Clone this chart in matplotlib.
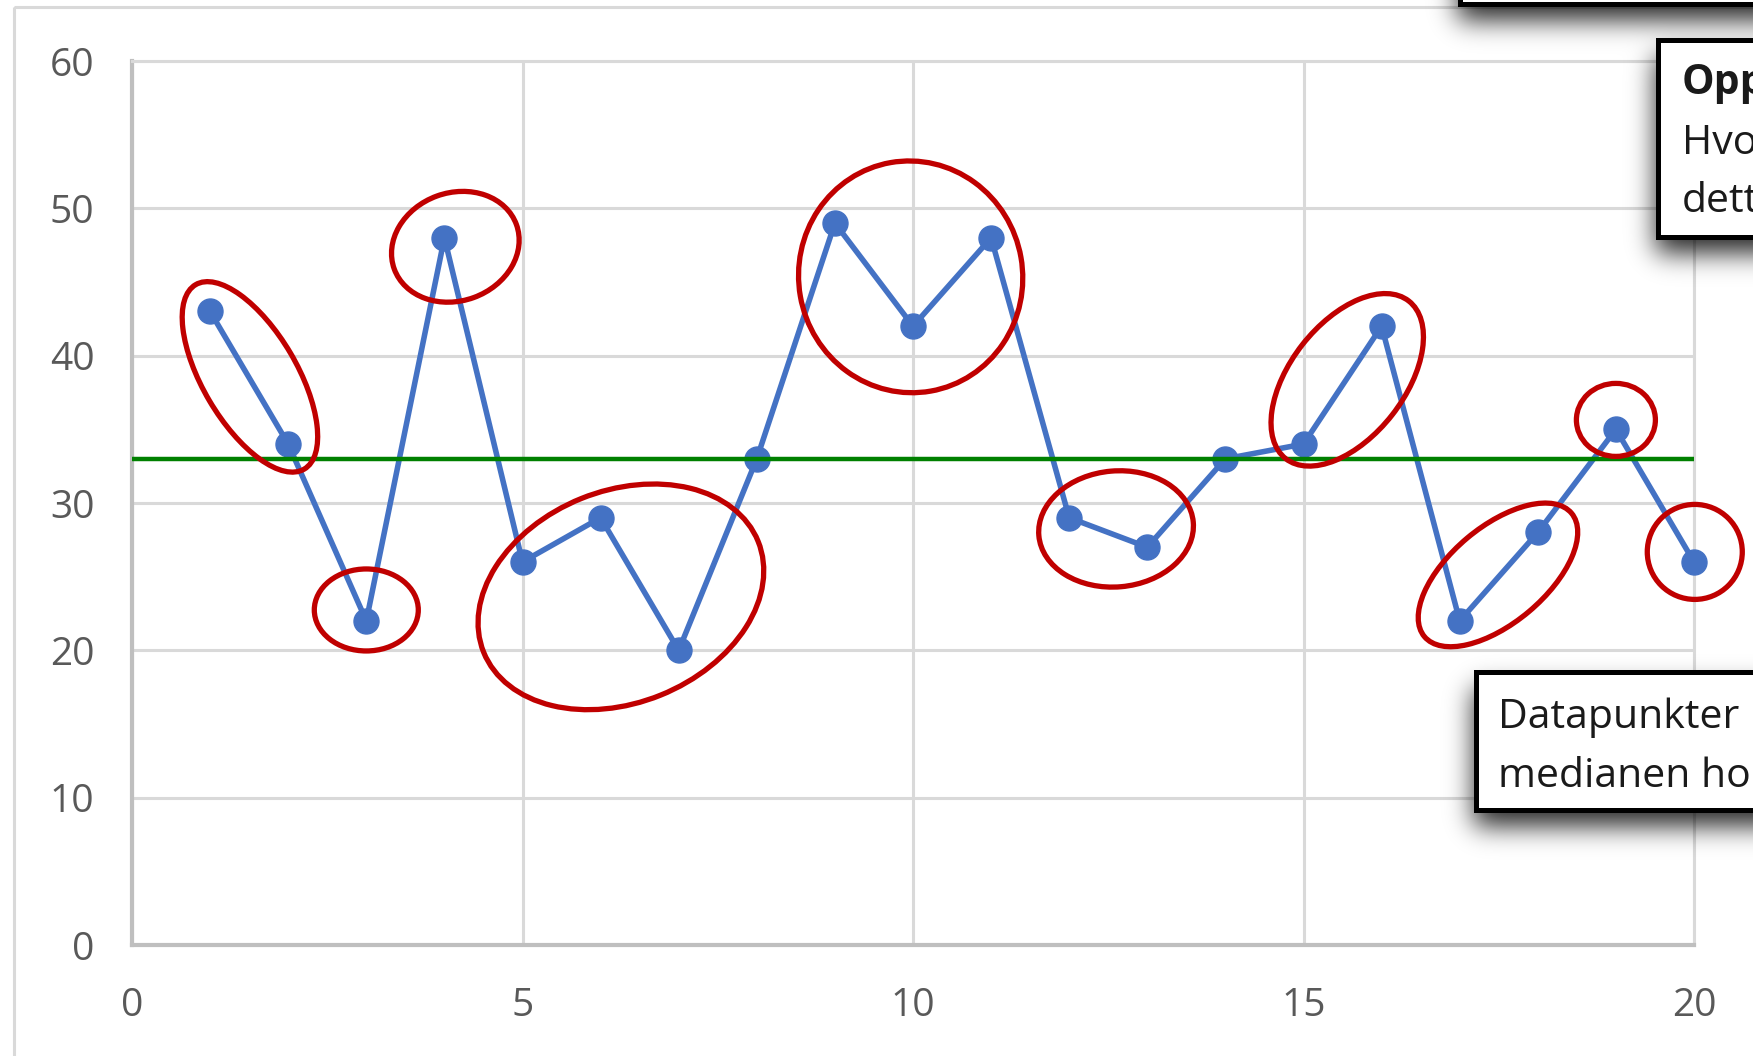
import math
import numpy as np
import matplotlib
matplotlib.use("Agg")
import matplotlib.pyplot as plt
from matplotlib.patches import Ellipse, Rectangle
from matplotlib.transforms import ScaledTranslation

plt.rcParams['font.family'] = ['Open Sans', 'DejaVu Sans']

# ---- data -------------------------------------------------------------
sample_no = list(range(1, 21))
values = [43, 34, 22, 48, 26, 29, 20, 33, 49, 42,
          48, 29, 27, 33, 34, 42, 22, 28, 35, 26]
x_ticks = [0, 5, 10, 15, 20]
y_ticks = [0, 10, 20, 30, 40, 50, 60]
median_span = [0, 20]

note_lines = ["Datapunkter", "medianen ho"]
task_title = "Opp"
task_lines = ["Hvo", "dett"]

# ---- figure -----------------------------------------------------------
W, H = 1753, 1056
DPI = 100
fig = plt.figure(figsize=(W / DPI, H / DPI), dpi=DPI)
fig.patch.set_facecolor("white")

BLUE = "#4472C4"
RED = "#C00000"
GREEN = "#008000"
GRID = "#D9D9D9"
AXIS = "#BFBFBF"
LABEL = "#595959"

ax = fig.add_axes([132 / W, 1 - 945 / H, (1694 - 132) / W, (945 - 61) / H])
ax.set_xlim(0, 20)
ax.set_ylim(0, 60)
ax.set_xticks(x_ticks)
ax.set_yticks(y_ticks)
ax.grid(True, color=GRID, lw=2.2)
ax.set_axisbelow(True)
for side in ("top", "right"):
    ax.spines[side].set_color(GRID)
    ax.spines[side].set_linewidth(2.2)
for side in ("left", "bottom"):
    ax.spines[side].set_color(AXIS)
    ax.spines[side].set_linewidth(3)
ax.tick_params(axis="both", length=0, labelsize=28, labelcolor=LABEL)
ax.tick_params(axis="y", pad=27)
ax.tick_params(axis="x", pad=30)

# series and median
ax.plot(sample_no, values, color=BLUE, lw=4.0, marker="o", ms=18,
        mec=BLUE, mfc=BLUE, clip_on=False, zorder=3)
med = float(np.median(values))
ax.plot(median_span, [med, med], color=GREEN, lw=3.2,
        solid_capstyle="butt", clip_on=False, zorder=4)

# red rings around groups of points: centre (data), width/height (px), angle
rings = [
    (1.51, 38.56, 214, 94, -59.5),
    (3.00, 22.74, 104, 82, 0),
    (4.14, 47.39, 130, 108, 20),
    (6.26, 23.63, 296, 212, 22),
    (9.97, 45.35, 224, 232, 10),
    (12.60, 28.24, 155, 116, 5),
    (15.56, 38.36, 200, 114, 52),
    (17.49, 25.12, 192, 96, 40),
    (19.00, 35.64, 79, 73, 0),
    (20.01, 26.68, 95, 95, 0),
]
for cx, cy, w, h, ang in rings:
    e = Ellipse((0, 0), w, h, angle=ang, fill=False, ec=RED, lw=3.8,
                transform=ScaledTranslation(cx, cy, ax.transData),
                clip_on=False, zorder=5)
    ax.add_artist(e)

# ---- overlay: frame, shadows and call-out boxes (pixel coords) ---------
ov = fig.add_axes([0, 0, 1, 1], zorder=10)
ov.set_xlim(0, W)
ov.set_ylim(H, 0)
ov.axis("off")

ov.add_patch(Rectangle((14, 7), W + 100, H + 100, fill=False,
                       ec=GRID, lw=2.2))

boxes = [
    (1460, -80, 1900, 4),
    (1658, 40, 1900, 237),
    (1476, 672, 1900, 810),
]

_erf = np.vectorize(math.erf)


def soft_box(x0, y0, x1, y1, sigma):
    xs = np.arange(W) + 0.5
    ys = np.arange(H) + 0.5
    k = sigma * math.sqrt(2)
    fx = 0.5 * (_erf((xs - x0) / k) - _erf((xs - x1) / k))
    fy = 0.5 * (_erf((ys - y0) / k) - _erf((ys - y1) / k))
    return np.outer(fy, fx)


keep = np.ones((H, W))
for x0, y0, x1, y1 in boxes:
    keep *= 1 - 0.85 * soft_box(x0 - 2, y0 + 16, x1 - 2, y1 + 16, 13)
shade = np.zeros((H, W, 4))
shade[..., 3] = 1 - keep
ov.imshow(shade, extent=(0, W, H, 0), interpolation="bilinear",
          aspect="auto", zorder=1)

for x0, y0, x1, y1 in boxes:
    ov.add_patch(Rectangle((x0, y0), x1 - x0, y1 - y0, fc="white",
                           ec="black", lw=3.6, zorder=2))

TXT = "#1A1A1A"
ov.text(1682, 94, task_title, fontsize=29.5, fontweight="bold", color=TXT,
        va="baseline", ha="left", zorder=3)
for i, line in enumerate(task_lines):
    ov.text(1682, 154 + 58 * i, line, fontsize=29.5, color=TXT,
            va="baseline", ha="left", zorder=3)
for i, line in enumerate(note_lines):
    ov.text(1498, 728 + 59 * i, line, fontsize=29.5, color=TXT,
            va="baseline", ha="left", zorder=3)

fig.savefig("out.png", dpi=DPI)
